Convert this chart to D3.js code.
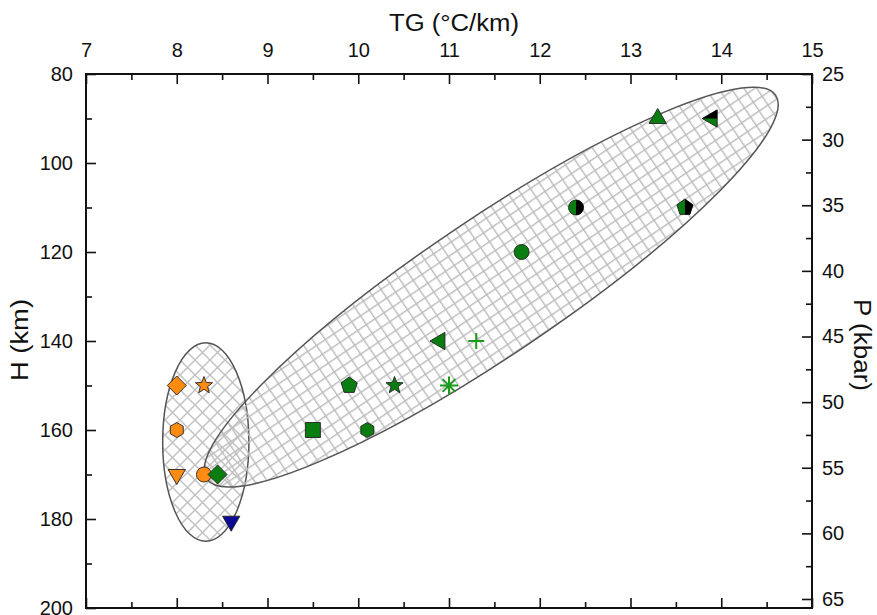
<!DOCTYPE html>
<html><head><meta charset="utf-8">
<script src="https://cdn.jsdelivr.net/npm/d3@7"></script>
<style>body{margin:0;background:#fff}svg{display:block}text{font-family:"Liberation Sans",Arial,sans-serif;fill:#111}</style>
</head><body><svg id="c" width="877" height="615"></svg>
<script>
// ---- data ----
const tgTicks = [7, 8, 9, 10, 11, 12, 13, 14, 15];
const hTicks = [80, 100, 120, 140, 160, 180, 200];
const pTicks = [25, 30, 35, 40, 45, 50, 55, 60, 65];
const pointTG = [8.0, 8.3, 8.0, 8.0, 8.3, 8.45, 8.6, 13.3, 13.9, 12.4, 13.6, 11.8, 10.9, 11.3, 9.9, 10.4, 11.0, 9.5, 10.1];
const pointH  = [150, 150, 160, 170, 170, 170, 180.5, 90, 90, 110, 110, 120, 140, 140, 150, 150, 150, 160, 160];
const pointShape = ["diamond","star","hexagon","triDown","circle","diamond","triDown","triUp","triLeft","circle","pentagon","circle","triLeft","plus","pentagon","star","asterisk","square","hexagon"];
const pointGroup = ["orange","orange","orange","orange","orange","green","blue","green","green","green","green","green","green","green","green","green","green","green","green"];
const pointHalf  = ["","","","","","","","","top","right","right","","","","","","","",""];
// regions (ellipses) in data units
const smallEllipse = {tg: 8.32, h: 162.7, rTG: 0.475, rH: 22.3};
const bigEllipseTips = {tg1: 8.33, h1: 171.0, tg2: 14.6, h2: 84.8};

// ---- layout ----
const svg = d3.select("#c");
const L = 86, R = 812, T = 74, B = 608;
const x = d3.scaleLinear().domain([7, 15]).range([L, R]);
const y = d3.scaleLinear().domain([80, 200]).range([T, B]);
const yP = d3.scaleLinear().domain([25, 25 + (B - T) / 13.125]).range([T, B]);
const colors = {orange: "#ff8c12", green: "#0a7d10", blue: "#0a0a96"};
const FONT = '"Liberation Sans",Arial,sans-serif';

// patterns
const defs = svg.append("defs");
const pg = defs.append("pattern").attr("id", "grid").attr("patternUnits", "userSpaceOnUse")
  .attr("width", 10.6).attr("height", 10.6).attr("x", 2).attr("y", 3);
pg.append("path").attr("d", "M0,0.7H10.6M0.7,0V10.6").attr("stroke", "#bdbdbd").attr("stroke-width", 1.5);
const pd = defs.append("pattern").attr("id", "diag").attr("patternUnits", "userSpaceOnUse")
  .attr("width", 15).attr("height", 15);
pd.append("path").attr("d", "M-1,-1L16,16M-1,16L16,-1M-8,7L8,-9M7,23L23,7M-8,8L7,23M8,-8L23,7")
  .attr("stroke", "#c2c2c2").attr("stroke-width", 1.5);

// small ellipse
const se = smallEllipse;
svg.append("ellipse")
  .attr("cx", x(se.tg)).attr("cy", y(se.h))
  .attr("rx", x(se.tg + se.rTG) - x(se.tg)).attr("ry", y(se.h + se.rH) - y(se.h))
  .attr("fill", "url(#diag)").attr("stroke", "#555").attr("stroke-width", 1.5);

// big ellipse (rotated)
const be = bigEllipseTips;
const bx1 = x(be.tg1), by1 = y(be.h1), bx2 = x(be.tg2), by2 = y(be.h2);
const bcx = (bx1 + bx2) / 2, bcy = (by1 + by2) / 2;
const ba = Math.hypot(bx2 - bx1, by2 - by1) / 2;
const bang = Math.atan2(by2 - by1, bx2 - bx1) * 180 / Math.PI;
svg.append("ellipse")
  .attr("cx", 0).attr("cy", 0).attr("rx", ba).attr("ry", 68)
  .attr("transform", `translate(${bcx},${bcy}) rotate(${bang})`)
  .attr("fill", "url(#grid)").attr("stroke", "#555").attr("stroke-width", 1.5);

// axes
function styleAxis(g) {
  g.select(".domain").remove();
  g.selectAll("line").attr("stroke", "#111").attr("stroke-width", 1.6);
  g.selectAll("text").attr("font-size", 20).attr("fill", "#111").style("font-family", FONT);
}
const xMinor = d3.range(7.5, 15, 1);
const hMinor = d3.range(90, 200, 20);
const pMinor = d3.range(27.5, 65, 5);
// top
svg.append("g").attr("transform", `translate(0,${T})`)
  .call(d3.axisBottom(x).tickValues(tgTicks).tickSize(10).tickFormat("")).call(styleAxis);
svg.append("g").attr("transform", `translate(0,${T})`)
  .call(d3.axisBottom(x).tickValues(xMinor).tickSize(6).tickFormat("")).call(styleAxis);
svg.append("g").attr("transform", `translate(0,${T - 13})`)
  .call(d3.axisTop(x).tickValues(tgTicks).tickSize(0).tickPadding(4)).call(styleAxis);
// bottom
svg.append("g").attr("transform", `translate(0,${B})`)
  .call(d3.axisTop(x).tickValues(tgTicks).tickSize(10).tickFormat("")).call(styleAxis);
svg.append("g").attr("transform", `translate(0,${B})`)
  .call(d3.axisTop(x).tickValues(xMinor).tickSize(6).tickFormat("")).call(styleAxis);
// left
svg.append("g").attr("transform", `translate(${L},0)`)
  .call(d3.axisRight(y).tickValues(hTicks).tickSize(10).tickFormat("")).call(styleAxis);
svg.append("g").attr("transform", `translate(${L},0)`)
  .call(d3.axisRight(y).tickValues(hMinor).tickSize(6).tickFormat("")).call(styleAxis);
svg.append("g").attr("transform", `translate(${L},0)`)
  .call(d3.axisLeft(y).tickValues(hTicks).tickSize(0).tickPadding(13)).call(styleAxis);
// right
svg.append("g").attr("transform", `translate(${R},0)`)
  .call(d3.axisLeft(yP).tickValues(pTicks).tickSize(10).tickFormat("")).call(styleAxis);
svg.append("g").attr("transform", `translate(${R},0)`)
  .call(d3.axisLeft(yP).tickValues(pMinor).tickSize(6).tickFormat("")).call(styleAxis);
svg.append("g").attr("transform", `translate(${R},0)`)
  .call(d3.axisRight(yP).tickValues(pTicks).tickSize(0).tickPadding(10)).call(styleAxis);

// frame
svg.append("rect").attr("x", L).attr("y", T).attr("width", R - L).attr("height", B - T)
  .attr("fill", "none").attr("stroke", "#111").attr("stroke-width", 2);

// titles
svg.append("text").attr("x", 454).attr("y", 31).attr("text-anchor", "middle").attr("font-size", 23)
  .attr("textLength", 130).attr("lengthAdjust", "spacingAndGlyphs").text("TG (°C/km)");
svg.append("text").attr("transform", "translate(28,340) rotate(-90)").attr("text-anchor", "middle").attr("font-size", 23)
  .attr("textLength", 82).attr("lengthAdjust", "spacingAndGlyphs").text("H (km)");
svg.append("text").attr("transform", "translate(854,345) rotate(90)").attr("text-anchor", "middle").attr("font-size", 23)
  .attr("textLength", 92).attr("lengthAdjust", "spacingAndGlyphs").text("P (kbar)");

// markers
function poly(n, r, rot) {
  const pts = [];
  for (let i = 0; i < n; i++) {
    const a = rot + i * 2 * Math.PI / n;
    pts.push([r * Math.cos(a), r * Math.sin(a)]);
  }
  return "M" + pts.map(p => p.map(v => v.toFixed(2)).join(",")).join("L") + "Z";
}
function star(r1, r2) {
  const pts = [];
  for (let i = 0; i < 10; i++) {
    const r = i % 2 ? r2 : r1, a = -Math.PI / 2 + i * Math.PI / 5;
    pts.push([r * Math.cos(a), r * Math.sin(a)]);
  }
  return "M" + pts.map(p => p.map(v => v.toFixed(2)).join(",")).join("L") + "Z";
}
const shapePath = {
  diamond: poly(4, 9.5, 0),
  star: star(9, 3.8),
  hexagon: poly(6, 7.5, Math.PI / 6),
  triDown: poly(3, 10, Math.PI / 2),
  triUp: poly(3, 10, -Math.PI / 2),
  triLeft: poly(3, 10, Math.PI),
  circle: "M7.5,0A7.5,7.5 0 1,1 -7.5,0A7.5,7.5 0 1,1 7.5,0Z",
  pentagon: poly(5, 8.5, -Math.PI / 2),
  square: "M-7.5,-7.5H7.5V7.5H-7.5Z",
  plus: "M-8,0H8M0,-8V8",
  asterisk: "M-9,0H9M0,-9V9M-6.4,-6.4L6.4,6.4M-6.4,6.4L6.4,-6.4"
};
const pts = pointTG.map((t, i) => ({t, h: pointH[i], s: pointShape[i], g: pointGroup[i], half: pointHalf[i], i}));
const mg = svg.append("g");
pts.forEach(d => {
  const g = mg.append("g").attr("transform", `translate(${x(d.t)},${y(d.h)})`);
  const c = colors[d.g];
  if (d.s === "plus" || d.s === "asterisk") {
    g.append("path").attr("d", shapePath[d.s]).attr("stroke", "#1c9a1c").attr("stroke-width", 2).attr("fill", "none");
    return;
  }
  g.append("path").attr("d", shapePath[d.s]).attr("fill", c).attr("stroke", "#222").attr("stroke-width", 0.9);
  if (d.half) {
    const id = "clip" + d.i;
    const cp = defs.append("clipPath").attr("id", id);
    if (d.half === "right") cp.append("rect").attr("x", 0).attr("y", -12).attr("width", 12).attr("height", 24);
    else cp.append("rect").attr("x", -12).attr("y", -12).attr("width", 24).attr("height", 12);
    g.append("path").attr("d", shapePath[d.s]).attr("fill", "#000").attr("clip-path", `url(#${id})`);
  }
});
</script></body></html>
